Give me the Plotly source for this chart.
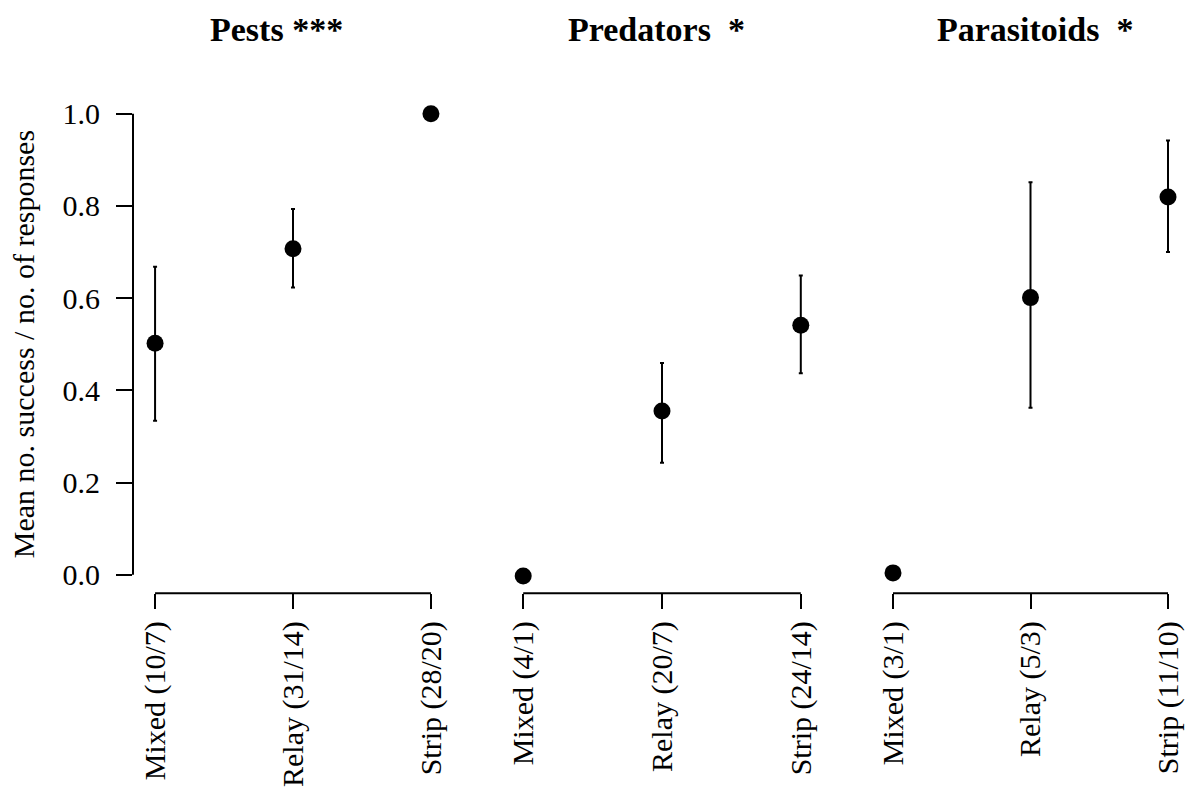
import plotly.graph_objects as go

# ---- data ----
panel_titles = ["Pests ***", "Predators  *", "Parasitoids  *"]

pests_labels = ["Mixed (10/7)", "Relay (31/14)", "Strip (28/20)"]
pests_mean = [0.502, 0.707, 1.0]
pests_lo = [0.334, 0.623, None]
pests_hi = [0.668, 0.793, None]

pred_labels = ["Mixed (4/1)", "Relay (20/7)", "Strip (24/14)"]
pred_mean = [-0.003, 0.355, 0.541]
pred_lo = [None, 0.243, 0.437]
pred_hi = [None, 0.459, 0.649]

para_labels = ["Mixed (3/1)", "Relay (5/3)", "Strip (11/10)"]
para_mean = [0.004, 0.601, 0.819]
para_lo = [None, 0.362, 0.700]
para_hi = [None, 0.851, 0.942]

y_ticks = [0.0, 0.2, 0.4, 0.6, 0.8, 1.0]
y_title = "Mean no. success / no. of responses"

# ---- layout geometry (pixels) ----
W, H = 1192, 787
FONT = "Liberation Serif, Times New Roman, serif"
x_domains_px = [(133, 453), (501, 823), (871, 1190)]
y_domain_px = (95.7, 596.2)
title_centers_px = [276, 656, 1035]
title_y_px = 30
ytitle_x_px = 23

panels = [
    (pests_labels, pests_mean, pests_lo, pests_hi),
    (pred_labels, pred_mean, pred_lo, pred_hi),
    (para_labels, para_mean, para_lo, para_hi),
]

fig = go.Figure()
ydom = [1 - y_domain_px[1] / H, 1 - y_domain_px[0] / H]
shapes = []
annotations = []

for i, (labels, mean, lo, hi) in enumerate(panels):
    n = i + 1
    xa = "x" if n == 1 else f"x{n}"
    ya = "y" if n == 1 else f"y{n}"
    xs = list(range(1, len(labels) + 1))
    plus = [None if h is None else h - m for h, m in zip(hi, mean)]
    minus = [None if l is None else m - l for l, m in zip(lo, mean)]
    fig.add_trace(go.Scatter(
        x=xs, y=mean, mode="markers",
        marker=dict(color="black", size=17),
        error_y=dict(type="data", symmetric=False, array=plus, arrayminus=minus,
                     color="black", thickness=2, width=2),
        xaxis=xa, yaxis=ya, showlegend=False, hoverinfo="skip",
    ))
    d = x_domains_px[i]
    layout_x = dict(
        domain=[d[0] / W, d[1] / W],
        range=[1 - 0.16, len(labels) + 0.16],
        tickmode="array", tickvals=xs, ticktext=labels, tickangle=-90,
        ticks="outside", ticklen=15, tickwidth=2, tickcolor="black",
        showline=False, showgrid=False, zeroline=False,
        tickfont=dict(family=FONT, size=30, color="black"),
        anchor=ya, fixedrange=True,
    )
    layout_y = dict(
        domain=ydom, range=[-0.04, 1.04],
        showgrid=False, zeroline=False, showline=False,
        anchor=xa, fixedrange=True,
    )
    if n == 1:
        layout_y.update(
            tickmode="array", tickvals=y_ticks,
            ticktext=[f"{v:.1f}" for v in y_ticks],
            ticks="outside", ticklen=16, tickwidth=2, tickcolor="black",
            ticklabelstandoff=10,
            tickfont=dict(family=FONT, size=30, color="black"),
        )
    else:
        layout_y.update(showticklabels=False, ticks="")
    fig.update_layout(**{("xaxis" if n == 1 else f"xaxis{n}"): layout_x,
                         ("yaxis" if n == 1 else f"yaxis{n}"): layout_y})
    # R-style x axis line: from first to last tick
    shapes.append(dict(type="line", xref=xa, yref=f"{ya} domain",
                       x0=xs[0], x1=xs[-1], y0=0, y1=0,
                       line=dict(color="black", width=2)))
    annotations.append(dict(
        text=f"<b>{panel_titles[i]}</b>", xref="paper", yref="paper",
        x=title_centers_px[i] / W, y=1 - title_y_px / H,
        xanchor="center", yanchor="middle", showarrow=False,
        font=dict(family=FONT, size=34, color="black"),
    ))

# y-axis title
annotations.append(dict(
    text=y_title, xref="paper", yref="paper",
    x=ytitle_x_px / W, y=sum(ydom) / 2, textangle=-90,
    xanchor="center", yanchor="middle", showarrow=False,
    font=dict(family=FONT, size=30, color="black"),
))

# R-style y axis line on first panel
shapes.append(dict(type="line", xref="x domain", yref="y",
                   x0=0, x1=0, y0=min(y_ticks), y1=max(y_ticks),
                   line=dict(color="black", width=2)))

fig.update_layout(
    width=W, height=H,
    margin=dict(l=0, r=0, t=0, b=0),
    paper_bgcolor="white", plot_bgcolor="white",
    shapes=shapes, annotations=annotations,
    font=dict(family=FONT, color="black"),
)

fig.write_html("out.html", config={"displayModeBar": False},
               post_script="document.body.style.margin='0';document.body.style.overflow='hidden';")
